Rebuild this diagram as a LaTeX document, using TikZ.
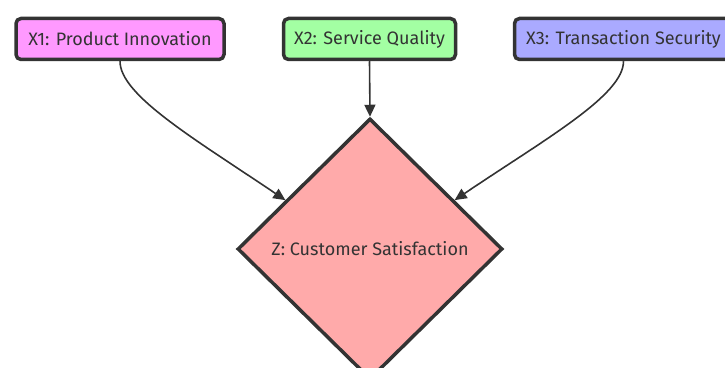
\documentclass[tikz,border=0pt]{standalone}
\usepackage{fontspec}
\setmainfont{Fira Sans}
\usetikzlibrary{shapes.geometric,arrows.meta}
\definecolor{inkgray}{HTML}{333333}
\definecolor{xonefill}{HTML}{FF99FF}
\definecolor{xtwofill}{HTML}{A3FFA3}
\definecolor{xthreefill}{HTML}{AAAAFF}
\definecolor{zfill}{HTML}{FFAAAA}
\tikzset{
  factor/.style={draw=inkgray, line width=3.5pt, rounded corners=5pt,
    minimum height=41pt, inner sep=0pt, text=inkgray,
    font=\fontsize{18}{21}\selectfont},
  outcome/.style={diamond, draw=inkgray, line width=3.5pt, fill=zfill,
    minimum width=265pt, minimum height=261pt, inner sep=0pt, text=inkgray,
    font=\fontsize{18}{21}\selectfont},
  link/.style={draw=inkgray, line width=1.6pt,
    -{Triangle[length=12pt,width=11pt]}}
}
\begin{document}
\begin{tikzpicture}[x=1pt,y=1pt]
\useasboundingbox (0,0) rectangle (725,367);
\clip (0,0) rectangle (725,367);
\node[factor, fill=xonefill, minimum width=208pt] (x1) at (120,328) {X1: Product Innovation};
\node[factor, fill=xtwofill, minimum width=172pt] (x2) at (369.5,328) {X2: Service Quality};
\node[factor, fill=xthreefill, minimum width=218pt] (x3) at (623.5,328) {X3: Transaction Security};
\node[outcome] (z) at (370,118) {Z: Customer Satisfaction};
\draw[link] (x1.south) to[out=-90,in=146,out distance=34pt,in distance=110pt] (z.150);
\draw[link] (x2.south) -- (z.north);
\draw[link] (x3.south) to[out=-90,in=34,out distance=34pt,in distance=110pt] (z.30);
\end{tikzpicture}
\end{document}
